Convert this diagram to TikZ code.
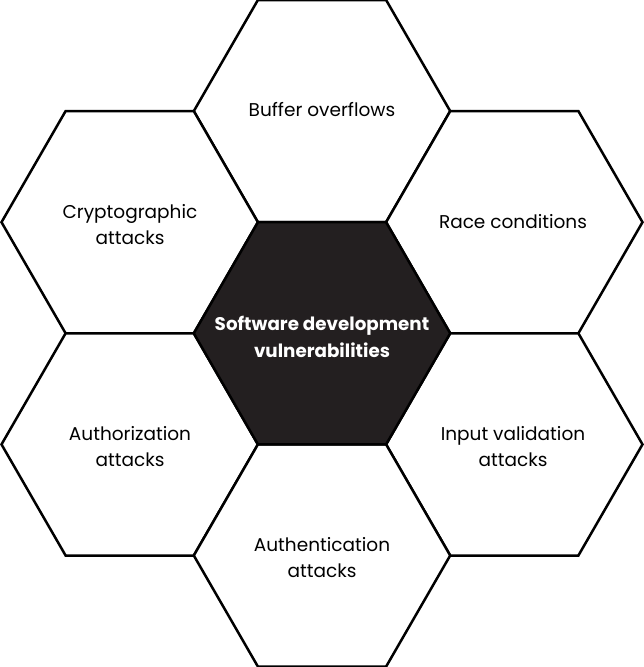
\documentclass[tikz,border=0pt]{standalone}
\usepackage{fontspec}
\setmainfont{Poppins}
\definecolor{hubfill}{HTML}{231F20}
\begin{document}
\begin{tikzpicture}[x=1pt,y=-1pt,
  hexline/.style={line width=2.5pt,line join=miter,draw=black},
  label/.style={align=center,font=\fontsize{18.5}{26}\selectfont,text=black},
  hublabel/.style={align=center,font=\bfseries\fontsize{18.3}{27}\selectfont,text=white}]
\useasboundingbox (0,0) rectangle (643,667);
% hexagon geometry: side s, half height h
\def\hs{128.2}
\def\hh{111.1}
\newcommand{\hexpath}[3]{%
  \draw[hexline,#3] (#1-\hs,#2) -- (#1-\hs/2,#2-\hh) -- (#1+\hs/2,#2-\hh)
    -- (#1+\hs,#2) -- (#1+\hs/2,#2+\hh) -- (#1-\hs/2,#2+\hh) -- cycle;}
% ring of six cells around the hub
\hexpath{322}{111.1}{fill=white}
\hexpath{129.7}{222.2}{fill=white}
\hexpath{514.3}{222.2}{fill=white}
\hexpath{129.7}{444.4}{fill=white}
\hexpath{514.3}{444.4}{fill=white}
\hexpath{322}{555.5}{fill=white}
% hub cell
\hexpath{322}{333.3}{fill=hubfill}
% texts
\node[hublabel] (hub) at (322,337) {Software development\\vulnerabilities};
\node[label] (buf) at (322,110) {Buffer overflows};
\node[label] (race) at (513,222) {Race conditions};
\node[label] (crypt) at (130,225) {Cryptographic\\attacks};
\node[label] (authz) at (130,447) {Authorization\\attacks};
\node[label] (input) at (513,447) {Input validation\\attacks};
\node[label] (authn) at (322,558) {Authentication\\attacks};
\end{tikzpicture}
\end{document}
